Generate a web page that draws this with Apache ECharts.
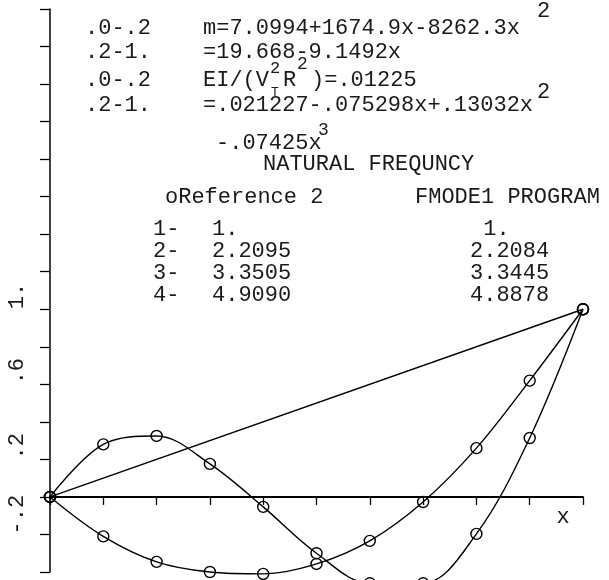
<!DOCTYPE html>
<html>
<head>
<meta charset="utf-8">
<title>mode shapes</title>
<script src="https://cdn.jsdelivr.net/npm/echarts@6.0.0/dist/echarts.min.js"></script>
<style>
html,body{margin:0;padding:0;background:#fff;}
#main{width:609px;height:580px;}
</style>
</head>
<body>
<div id="main"></div>
<script>
// mode shape values
var xs = [0, 0.1, 0.2, 0.3, 0.4, 0.5, 0.6, 0.7, 0.8, 0.9, 1];
var mode1X = [0, 1];
var mode1Y = [0, 1];
var mode2Y = [0, -0.21, -0.346, -0.40, -0.41, -0.357, -0.234, -0.027, 0.26, 0.62, 1];
var mode3Y = [0, 0.28, 0.325, 0.176, -0.053, -0.30, -0.46, -0.46, -0.197, 0.314, 1];

// tick labels
var xLabelVals = [0, 0.2, 0.4, 0.6, 0.8];
var xLabelText = ['.0', '.2', '.4', '.6', '.8'];
var yLabelVals = [-0.2, 0.2, 0.6, 1];
var yLabelText = ['-.2', '.2', '.6', '1.'];

// text block
var rangeText = ['.0-.2', '.2-1.', '.0-.2', '.2-1.'];
var eqText = ['m=7.0994+1674.9x-8262.3x', '=19.668-9.1492x', '=.021227-.075298x+.13032x', '-.07425x'];
var titleText = 'NATURAL FREQUNCY';
var colText = ['oReference 2', 'FMODE1 PROGRAM'];
var modeNo = ['1-', '2-', '3-', '4-'];
var freqRef = ['1.', '2.2095', '3.3505', '4.9090'];
var freqProg = [' 1.', '2.2084', '3.3445', '4.8878'];

var FONT = 'Liberation Mono';

function pairs(x, y) {
    var out = [];
    for (var i = 0; i < x.length; i++) out.push([x[i], y[i]]);
    return out;
}
function pick(v, vals, txt) {
    for (var i = 0; i < vals.length; i++) {
        if (Math.abs(v - vals[i]) < 1e-6) return txt[i];
    }
    return '';
}
function txt(s, x, y, size) {
    return {
        type: 'text', x: x, y: y, silent: true,
        style: {
            text: s, fill: '#1a1a1a', font: (size || 22) + 'px "' + FONT + '"',
            align: 'left', verticalAlign: 'middle',
            textAlign: 'left', textVerticalAlign: 'middle'
        }
    };
}

var rowY = [28, 52, 80, 105];
var graphics = [];
for (var i = 0; i < rangeText.length; i++) {
    graphics.push(txt(rangeText[i], 85, rowY[i]));
}
graphics.push(txt(eqText[0], 203, rowY[0]));
graphics.push(txt('2', 537, 11));
graphics.push(txt(eqText[1], 203, rowY[1]));
// EI/(V^2_T R^2)=.01225
graphics.push(txt('EI/(V', 203, rowY[2]));
graphics.push(txt('2', 270, 68, 17));
graphics.push(txt('T', 271, 93, 13));
graphics.push(txt('R', 283, rowY[2]));
graphics.push(txt('2', 297, 64, 18));
graphics.push(txt(')=.01225', 311, rowY[2]));
graphics.push(txt(eqText[2], 203, rowY[3]));
graphics.push(txt('2', 537, 92));
graphics.push(txt(eqText[3], 216, 143));
graphics.push(txt('3', 318, 130, 18));
graphics.push(txt(titleText, 263, 164));
graphics.push(txt(colText[0], 165, 197));
graphics.push(txt(colText[1], 415, 197));
var tabY = [229, 251, 273, 295];
for (var i = 0; i < modeNo.length; i++) {
    graphics.push(txt(modeNo[i], 153, tabY[i]));
    graphics.push(txt(freqRef[i], 212, tabY[i]));
    graphics.push(txt(freqProg[i], 470, tabY[i]));
}

var chart = echarts.init(document.getElementById('main'));

var lineSeries = function (data) {
    return {
        type: 'line',
        data: data,
        smooth: 0.35,
        clip: false,
        symbol: 'circle',
        symbolSize: 11,
        showAllSymbol: true,
        itemStyle: { color: 'rgba(0,0,0,0)', borderColor: '#000', borderWidth: 1.4 },
        lineStyle: { color: '#000', width: 1.4 },
        emphasis: { disabled: true }
    };
};

var option = {
    animation: false,
    backgroundColor: '#fff',
    grid: { left: 50, right: 26, top: 9, bottom: 8, containLabel: false, outerBoundsMode: 'none' },
    xAxis: {
        type: 'value', min: 0, max: 1, interval: 0.1,
        name: 'x', nameLocation: 'end', nameGap: -20,
        nameTextStyle: {
            fontSize: 22, fontFamily: FONT, color: '#1a1a1a',
            align: 'center', verticalAlign: 'top', padding: [9, 0, 0, 0]
        },
        axisLine: { onZero: true, lineStyle: { color: '#000', width: 1.8 } },
        axisTick: { length: 8, lineStyle: { color: '#000', width: 1.3 } },
        axisLabel: {
            margin: 10, fontSize: 22, fontFamily: FONT, color: '#1a1a1a',
            padding: [0, 0, 0, 10],
            formatter: function (v) { return pick(v, xLabelVals, xLabelText); }
        },
        splitLine: { show: false }
    },
    yAxis: {
        type: 'value', min: -0.4, max: 2.6, interval: 0.2,
        axisLine: { lineStyle: { color: '#000', width: 1.5 } },
        axisTick: { length: 10, lineStyle: { color: '#000', width: 1.3 } },
        axisLabel: {
            rotate: 90, align: 'left', verticalAlign: 'middle', margin: 33,
            fontSize: 22, fontFamily: FONT, color: '#1a1a1a',
            formatter: function (v) { return pick(v, yLabelVals, yLabelText); }
        },
        splitLine: { show: false }
    },
    graphic: graphics,
    series: [
        lineSeries(pairs(mode1X, mode1Y)),
        lineSeries(pairs(xs, mode2Y)),
        lineSeries(pairs(xs, mode3Y))
    ]
};
chart.setOption(option);
</script>
</body>
</html>
